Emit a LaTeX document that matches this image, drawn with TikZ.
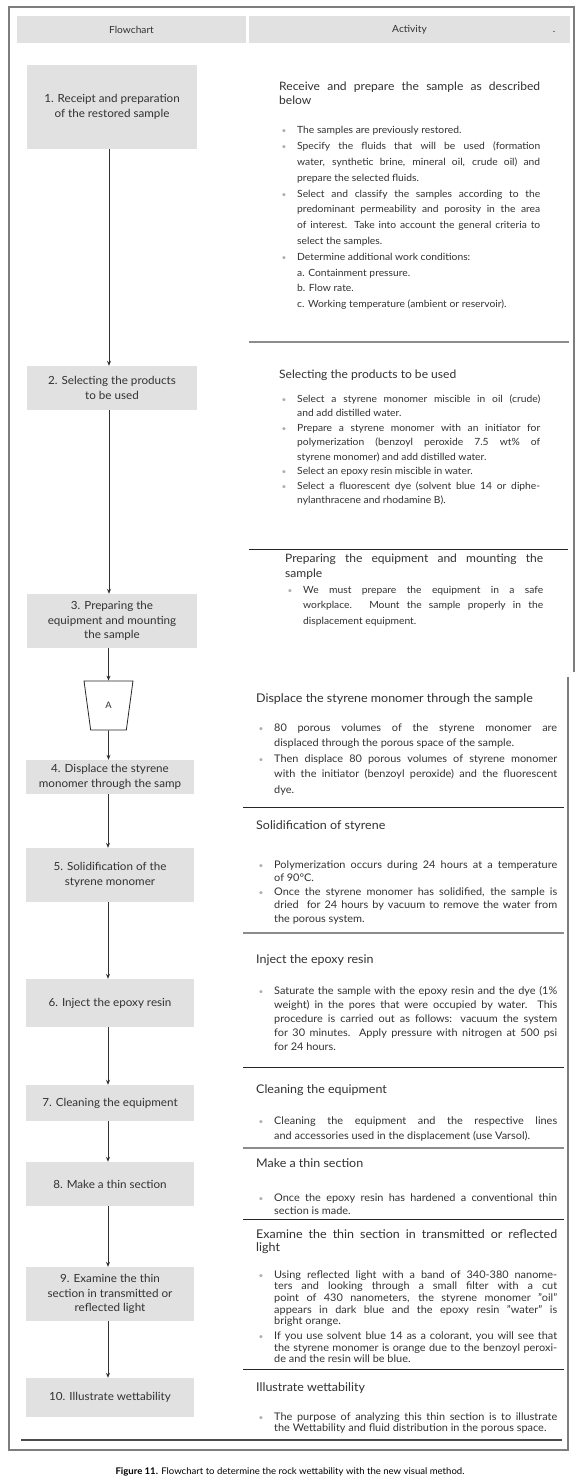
\documentclass[tikz,border=0pt]{standalone}
\usepackage{fontspec}
\setmainfont{Lato}[FakeStretch=1.04]
\usetikzlibrary{arrows.meta,shapes.geometric}
\definecolor{boxgray}{RGB}{225,225,225}
\definecolor{textc}{RGB}{50,50,50}
\definecolor{framec}{RGB}{125,125,125}
\definecolor{bulc}{RGB}{175,175,175}
\definecolor{sepgray}{RGB}{140,140,140}
\tolerance=10000 \pretolerance=-1 \hyphenpenalty=10000 \exhyphenpenalty=10000
\newcommand\bulx{\hangindent=18pt\hangafter=1\noindent\makebox[18pt][l]{\hspace{2.5pt}\textcolor{bulc}{\fontsize{8}{8}\selectfont\textbullet}}\ignorespaces}
\newcommand\bul{\par\bulx}
\begin{document}
\begin{tikzpicture}[x=1pt,y=-1pt,
  fbox/.style={fill=boxgray, inner sep=0pt, align=center, text=textc, font=\fontsize{11.2}{14.5}\selectfont},
  hdr/.style={fill=boxgray, inner sep=0pt, text=textc, font=\fontsize{9.8}{12}\selectfont},
  ttl/.style={anchor=base west, inner sep=0pt, align=justify, text=textc},
  blt/.style={anchor=base west, inner sep=0pt, align=justify, text=textc},
  upT/.style={font=\fontsize{11.6}{14}\selectfont},
  loT/.style={font=\fontsize{12}{14}\selectfont},
  arr/.style={draw=textc, line width=0.8pt, -{Stealth[length=5pt,width=4pt]}},
  frm/.style={draw=framec, line width=1.2pt},
  sepk/.style={draw=black!85, line width=0.8pt},
  sepg/.style={draw=sepgray, line width=1.5pt}]
\fill[white] (0,0) rectangle (578,1479);
\useasboundingbox (0,0) rectangle (578,1479);

% outer frame
\draw[frm] (574,672) -- (574,7) -- (9,7) -- (9,1450) -- (568,1450) -- (568,677);

% header
\node[hdr, minimum width=229pt, minimum height=27pt] (hflow) at (131.5,29.5) {Flowchart};
\node[hdr, minimum width=321pt, minimum height=27pt] (hact) at (409.5,29.5) {Activity};
\node[anchor=base, inner sep=0pt, text=textc, font=\fontsize{10}{12}\selectfont] (hdot) at (554,33) {.};

% flowchart boxes
\node[fbox, minimum width=170pt, minimum height=84pt] (b1) at (112,107) {1. Receipt and preparation\\of the restored sample};
\node[fbox, minimum width=170pt, minimum height=44pt] (b2) at (112,388) {2. Selecting the products\\to be used};
\node[fbox, minimum width=170pt, minimum height=54pt] (b3) at (112,621) {3. Preparing the\\equipment and mounting\\the sample};
\node[draw=black!85, line width=0.8pt, trapezium, shape border rotate=180, trapezium angle=79.6,
      trapezium stretches=true, minimum width=49pt, minimum height=49pt, inner sep=0pt,
      text=textc, font=\fontsize{9}{11}\selectfont] (A) at (108.5,705.5) {A};
\node[fbox, minimum width=168pt, minimum height=34pt] (b4) at (110,777) {4. Displace the styrene\\monomer through the samp};
\node[fbox, minimum width=168pt, minimum height=54pt] (b5) at (110,875) {5. Solidification of the\\styrene monomer};
\node[fbox, minimum width=168pt, minimum height=48pt] (b6) at (110,1003) {6. Inject the epoxy resin};
\node[fbox, minimum width=168pt, minimum height=36pt] (b7) at (110,1103) {7. Cleaning the equipment};
\node[fbox, minimum width=168pt, minimum height=44pt] (b8) at (110,1184) {8. Make a thin section};
\node[fbox, minimum width=168pt, minimum height=54pt] (b9) at (110,1294) {9. Examine the thin\\section in transmitted or\\reflected light};
\node[fbox, minimum width=168pt, minimum height=39pt] (b10) at (110,1397.5) {10. Illustrate wettability};

% connectors
\draw[arr] ([xshift=-3pt]b1.south) -- ([xshift=-3pt]b2.north);
\draw[arr] ([xshift=-3pt]b2.south) -- ([xshift=-3pt]b3.north);
\draw[arr] ([xshift=-3.5pt]b3.south) -- (A.north);
\draw[arr] (A.south) -- ([xshift=-1.5pt]b4.north);
\draw[arr] ([xshift=-2pt]b4.south) -- ([xshift=-2pt]b5.north);
\draw[arr] ([xshift=-2pt]b5.south) -- ([xshift=-2pt]b6.north);
\draw[arr] ([xshift=-2pt]b6.south) -- ([xshift=-2pt]b7.north);
\draw[arr] ([xshift=-2pt]b7.south) -- ([xshift=-2pt]b8.north);
\draw[arr] ([xshift=-2pt]b8.south) -- ([xshift=-2pt]b9.north);
\draw[arr] ([xshift=-2pt]b9.south) -- ([xshift=-2pt]b10.north);

% separators
\draw[sepg] (249,342) -- (569,342);
\draw[sepk] (249,549) -- (568,549);
\draw[sepk] (243,807) -- (564,807);
\draw[sepg] (243,933) -- (564,933);
\draw[sepk] (243,1067) -- (564,1067);
\draw[sepg] (243,1148) -- (564,1148);
\draw[sepk] (243,1219) -- (564,1219);
\draw[sepk] (243,1369) -- (564,1369);
\draw[draw=black!70, line width=1.3pt] (21,1440) -- (562,1440);

% activity 1
\node[ttl, upT, text width=261pt] (t1) at (279,90.5) {Receive and prepare the sample as described\linebreak below\par};
\node[blt, text width=261pt, font=\fontsize{9.9}{15.8}\selectfont] (l1) at (279,134) {%
\bulx The samples are previously restored.
\bul Specify the fluids that will be used (formation\linebreak water, synthetic brine, mineral oil, crude oil) and\linebreak prepare the selected fluids.
\bul Select and classify the samples according to the\linebreak predominant permeability and porosity in the area\linebreak of interest. Take into account the general criteria to\linebreak select the samples.
\bul Determine additional work conditions:\newline a. Containment pressure.\newline b. Flow rate.\newline c. Working temperature (ambient or reservoir).\par};

% activity 2
\node[ttl, upT, text width=261pt] (t2) at (279,378.5) {Selecting the products to be used\par};
\node[blt, text width=261pt, font=\fontsize{9.9}{14.5}\selectfont] (l2) at (279,402) {%
\bulx Select a styrene monomer miscible in oil (crude)\linebreak and add distilled water.
\bul Prepare a styrene monomer with an initiator for\linebreak polymerization (benzoyl peroxide 7.5 wt\% of\linebreak styrene monomer) and add distilled water.
\bul Select an epoxy resin miscible in water.
\bul Select a fluorescent dye (solvent blue 14 or diphe-\linebreak nylanthracene and rhodamine B).\par};

% activity 3
\node[ttl, font=\fontsize{11.6}{15}\selectfont, text width=258pt] (t3) at (285,562.5) {Preparing the equipment and mounting the\linebreak sample\par};
\node[blt, text width=258pt, font=\fontsize{9.9}{15.5}\selectfont] (l3) at (285,593) {%
\bulx We must prepare the equipment in a safe\linebreak workplace. Mount the sample properly in the\linebreak displacement equipment.\par};

% activity 4
\node[ttl, loT, text width=301pt] (t4) at (256,702.5) {Displace the styrene monomer through the sample\par};
\node[blt, text width=301pt, font=\fontsize{10.5}{15.5}\selectfont] (l4) at (256,731) {%
\bulx 80 porous volumes of the styrene monomer are\linebreak displaced through the porous space of the sample.
\bul Then displace 80 porous volumes of styrene monomer\linebreak with the initiator (benzoyl peroxide) and the fluorescent\linebreak dye.\par};

% activity 5
\node[ttl, loT, text width=301pt] (t5) at (256,829.5) {Solidification of styrene\par};
\node[blt, text width=301pt, font=\fontsize{10.5}{13.5}\selectfont] (l5) at (256,868) {%
\bulx Polymerization occurs during 24 hours at a temperature\linebreak of 90°C.
\bul Once the styrene monomer has solidified, the sample is\linebreak dried\ \ for 24 hours by vacuum to remove the water from\linebreak the porous system.\par};

% activity 6
\node[ttl, loT, text width=301pt] (t6) at (256,963.5) {Inject the epoxy resin\par};
\node[blt, text width=301pt, font=\fontsize{10.5}{14}\selectfont] (l6) at (256,994) {%
\bulx Saturate the sample with the epoxy resin and the dye (1\%\linebreak weight) in the pores that were occupied by water. This\linebreak procedure is carried out as follows: vacuum the system\linebreak for 30 minutes. Apply pressure with nitrogen at 500 psi\linebreak for 24 hours.\par};

% activity 7
\node[ttl, loT, text width=301pt] (t7) at (256,1093.5) {Cleaning the equipment\par};
\node[blt, text width=301pt, font=\fontsize{10.5}{15}\selectfont] (l7) at (256,1124) {%
\bulx Cleaning the equipment and the respective lines\linebreak and accessories used in the displacement (use Varsol).\par};

% activity 8
\node[ttl, loT, text width=301pt] (t8) at (256,1167.5) {Make a thin section\par};
\node[blt, text width=301pt, font=\fontsize{10.5}{13}\selectfont] (l8) at (256,1201) {%
\bulx Once the epoxy resin has hardened a conventional thin\linebreak section is made.\par};

% activity 9
\node[ttl, font=\fontsize{12}{13}\selectfont, text width=301pt] (t9) at (256,1238.5) {Examine the thin section in transmitted or reflected\linebreak light\par};
\node[blt, text width=301pt, font=\fontsize{10.5}{11.7}\selectfont] (l9) at (256,1278) {%
\bulx Using reflected light with a band of 340-380 nanome-\linebreak ters and looking through a small filter with a cut\linebreak point of 430 nanometers, the styrene monomer "oil"\linebreak appears in dark blue and the epoxy resin "water" is\linebreak bright orange.\par\vspace{3pt}
\bul If you use solvent blue 14 as a colorant, you will see that\linebreak the styrene monomer is orange due to the benzoyl peroxi-\linebreak de and the resin will be blue.\par};

% activity 10
\node[ttl, loT, text width=301pt] (t10) at (256,1391.5) {Illustrate wettability\par};
\node[blt, text width=301pt, font=\fontsize{10.5}{11.5}\selectfont] (l10) at (256,1420) {%
\bulx The purpose of analyzing this thin section is to illustrate\linebreak the Wettability and fluid distribution in the porous space.\par};

% caption
\node[anchor=base, inner sep=0pt, text=black, font=\fontsize{9.2}{11}\selectfont] (cap) at (290,1474) {\textbf{Figure 11.} Flowchart to determine the rock wettability with the new visual method.};
\end{tikzpicture}
\end{document}
